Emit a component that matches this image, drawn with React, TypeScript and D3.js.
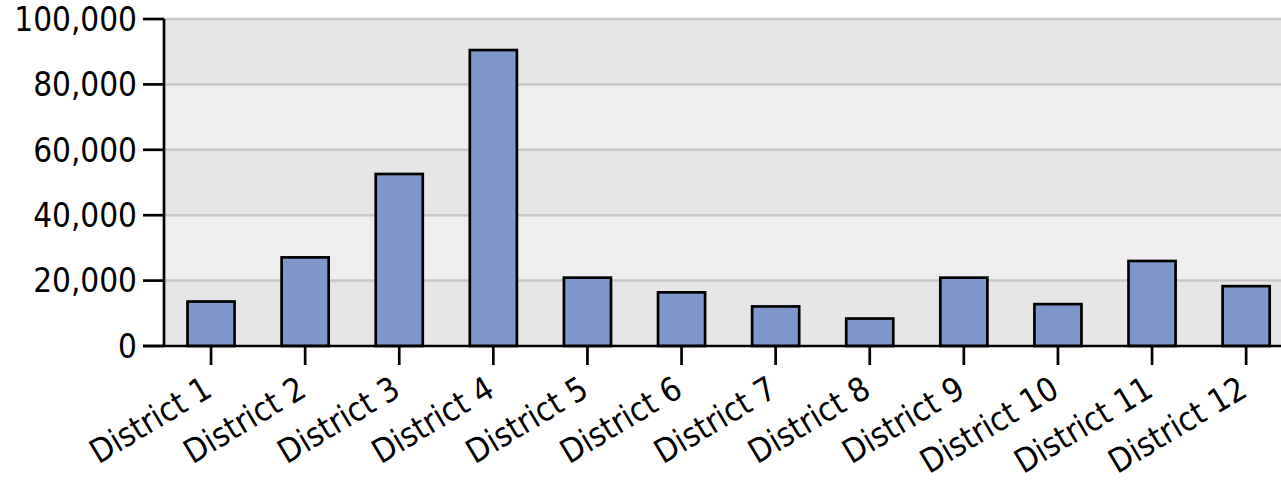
import React from "react";
import * as d3 from "d3";

const categories = ["District 1","District 2","District 3","District 4","District 5","District 6","District 7","District 8","District 9","District 10","District 11","District 12"];
const values = [13600, 27100, 52600, 90500, 20900, 16400, 12100, 8400, 20900, 12800, 26000, 18300];
const yTicks = [0, 20000, 40000, 60000, 80000, 100000];

const W = 1281, H = 481;
const FONT = "'DejaVu Sans Condensed', 'DejaVu Sans', sans-serif";

export default function App() {
  const x0 = 164;
  const step = 94.1;
  const x = d3.scaleBand<string>().domain(categories).range([x0, x0 + step * categories.length]).paddingInner(0.5).paddingOuter(0.25);
  const y = d3.scaleLinear().domain([0, 100000]).range([346, 19]);
  const fmt = d3.format(",");
  const bands = d3.range(0, 100000, 20000);
  return (
    <svg width={W} height={H} style={{ position: "absolute", left: 0, top: 0 }}>
      {bands.map((b, i) => (
        <rect key={"b" + i} x={x0} y={y(b + 20000)} width={W - x0} height={y(b) - y(b + 20000)} fill={i % 2 === 0 ? "#e6e6e6" : "#efefef"} />
      ))}
      {yTicks.filter(t => t > 0).map(t => (
        <line key={"g" + t} x1={x0} x2={W} y1={y(t)} y2={y(t)} stroke="#c8c8c8" strokeWidth={2.5} />
      ))}
      {categories.map((c, i) => (
        <rect key={c} x={x(c)} y={y(values[i])} width={x.bandwidth()} height={y(0) - y(values[i])} fill="#8097cc" stroke="#000" strokeWidth={2.7} />
      ))}
      <line x1={x0} x2={x0} y1={y(100000)} y2={y(0)} stroke="#000" strokeWidth={2.7} />
      <line x1={143} x2={W} y1={y(0)} y2={y(0)} stroke="#000" strokeWidth={2.7} />
      {yTicks.map(t => (
        <g key={"t" + t}>
          <line x1={143} x2={x0} y1={y(t)} y2={y(t)} stroke="#000" strokeWidth={2.7} />
          <text x={137} y={y(t)} dy="0.36em" textAnchor="end" fontFamily={FONT} fontSize={33} fill="#000">{fmt(t)}</text>
        </g>
      ))}
      {categories.map(c => {
        const cx = (x(c) as number) + x.bandwidth() / 2;
        return (
          <g key={"x" + c}>
            <line x1={cx} x2={cx} y1={y(0)} y2={y(0) + 19} stroke="#000" strokeWidth={2.7} />
            <text transform={`translate(${cx + 3},${y(0) + 49}) rotate(-31)`} textAnchor="end" fontFamily={FONT} fontSize={33} fill="#000">{c}</text>
          </g>
        );
      })}
    </svg>
  );
}
